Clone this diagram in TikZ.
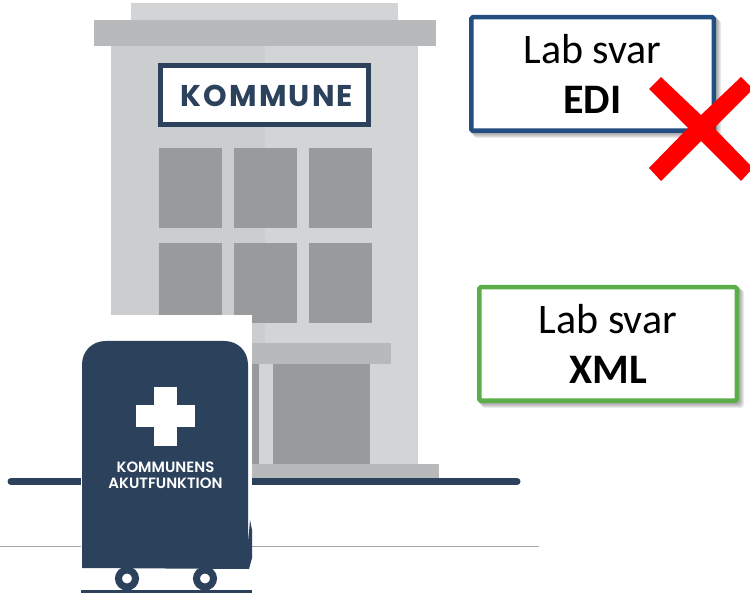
\documentclass[tikz,border=0pt]{standalone}
\usepackage{fontspec}
\setmainfont{Carlito}
\newfontfamily\signfont[LetterSpace=7]{Poppins Bold}
\newfontfamily\cartfont{Poppins SemiBold}
\definecolor{navy}{HTML}{2B415C}
\definecolor{wallL}{HTML}{CCCDCF}
\definecolor{wallR}{HTML}{D3D4D6}
\definecolor{roofC}{HTML}{B8B9BB}
\definecolor{winC}{HTML}{999A9C}
\definecolor{ediblue}{HTML}{234E81}
\definecolor{xmlgreen}{HTML}{5BAE48}
\tikzset{
  winbox/.style={fill=winC,draw=none},
  labbox/.style={fill=white,line width=4.5pt,rounded corners=1.5pt,minimum height=113.5pt,align=center,inner sep=0pt,
     font=\fontsize{42}{50}\selectfont},
  softshadow/.style={fill=black,opacity=.08,rounded corners=3pt},
  signtext/.style={text=navy,font=\signfont\fontsize{30}{32}\selectfont,inner sep=0pt},
  carttext/.style={text=white,font=\cartfont\fontsize{14.9}{16}\selectfont,inner sep=0pt,align=center},
}
\begin{document}
\begin{tikzpicture}[x=1pt,y=-1pt]
\useasboundingbox (0,0) rectangle (750,593);
\clip (0,0) rectangle (750,593);
% building
\fill[wallR] (131,3) rectangle (398,20);
\fill[roofC] (94,20) rectangle (436,46);
\fill[wallR] (111,46) rectangle (418,464);
\fill[wallL] (111,46) rectangle (265,464);
% sign
\node[draw=navy,line width=5pt,fill=white,minimum width=208pt,minimum height=59pt,inner sep=0pt] (sign) at (264.5,95) {};
\node[signtext] (signlabel) at (267,95.5) {KOMMUNE};
% windows
\foreach \xa/\xb in {159/222,234/297,309/372}{
  \fill[winbox] (\xa,148) rectangle (\xb,228);
  \fill[winbox] (\xa,243) rectangle (\xb,323);
}
% entrance
\fill[roofC] (240,343) rectangle (391,364);
\fill[winC] (240,364) rectangle (259,464);
\fill[wallR] (259,364) rectangle (273,464);
\fill[winC] (273,364) rectangle (370,464);
\fill[roofC] (240,464) rectangle (439,478);
% ground
\draw[navy,line width=7pt,line cap=round] (11,481.5) -- (517,481.5);
% baseline
\draw[black!35,line width=1pt] (0,546.5) -- (539,546.5);
% cart
\fill[white] (81,315) rectangle (252,593);
\fill[navy] (82,568) -- (82,365) .. controls (82,351) and (92,341) .. (106,341) -- (224,341)
  .. controls (238,341) and (248,351) .. (248,365) -- (248,545) -- (250,520) -- (252,530) -- (252,558) -- (249,569) -- cycle;
\fill[white] (154,387) rectangle (177,446);
\fill[white] (136,405) rectangle (195,427);
\node[carttext] (cartlabel) at (165.5,475.5) {KOMMUNENS\\[-.5pt]AKUTFUNKTION};
\foreach \cx in {127,205}{
  \draw[navy,line width=7pt,fill=white] (\cx,578.5) circle[radius=8.5];
}
\fill[navy] (81,590) rectangle (252,593);
% lab boxes shadows
\foreach \d in {1,2,3,4,5}{
  \fill[softshadow] (469+\d,15+\d) rectangle (716+\d,133+\d);
  \fill[softshadow] (477+\d,285+\d) rectangle (739+\d,403+\d);
}
% lab boxes
\node[labbox,draw=ediblue,minimum width=242.5pt] (edi) at (592.5,74) {Lab svar\\\textbf{EDI}};
\node[labbox,draw=xmlgreen,minimum width=257.5pt] (xml) at (608,344) {Lab svar\\\textbf{XML}};
% red cross
\fill[red] (661,77) -- (701,115) -- (741,77) -- (753,89) -- (714,128) -- (753,168) -- (741,181)
  -- (701,141) -- (661,181) -- (649,168) -- (688,128) -- (649,89) -- cycle;
\end{tikzpicture}
\end{document}
